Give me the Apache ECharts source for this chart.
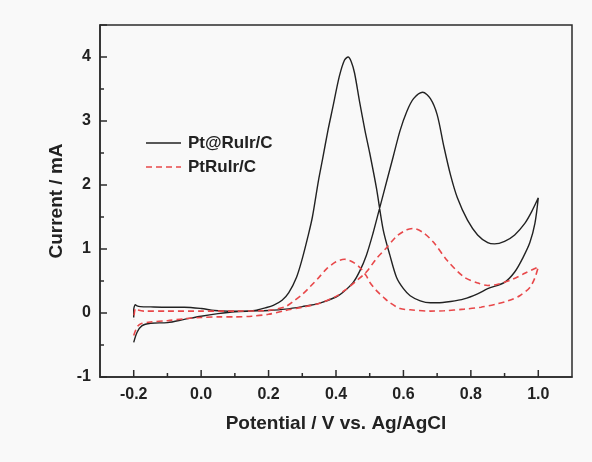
<!DOCTYPE html>
<html>
<head>
<meta charset="utf-8">
<script src="https://cdn.jsdelivr.net/npm/echarts@6/dist/echarts.min.js"></script>
<style>
html,body{margin:0;padding:0;background:#f9f9f9;}
#chart{width:592px;height:462px;}
</style>
</head>
<body>
<div id="chart"></div>
<script>
// Pt@RuIr/C cyclic voltammogram: forward scan then backward scan
const blackV = [-0.2,-0.19,-0.176,-0.15,-0.1,-0.05,0.0,0.05,0.1,0.15,0.2,0.25,0.3,0.35,0.4,0.42,0.45,0.47,0.49,0.51,0.53,0.55,0.57,0.59,0.61,0.63,0.657,0.68,0.7,0.72,0.74,0.76,0.79,0.82,0.85,0.87,0.9,0.93,0.96,0.98,1.0,
  0.99,0.975,0.955,0.93,0.9,0.85,0.82,0.78,0.74,0.7,0.68,0.65,0.62,0.6,0.58,0.56,0.54,0.52,0.5,0.486,0.47,0.455,0.445,0.436,0.425,0.41,0.39,0.376,0.36,0.348,0.33,0.317,0.3,0.283,0.26,0.24,0.214,0.19,0.16,0.12,0.08,0.04,0.0,-0.05,-0.1,-0.15,-0.18,-0.19,-0.195,-0.2,-0.2];
const blackI = [-0.46,-0.3,-0.2,-0.16,-0.15,-0.1,-0.05,-0.01,0.02,0.03,0.04,0.06,0.1,0.15,0.25,0.32,0.47,0.65,0.9,1.25,1.65,2.05,2.45,2.85,3.15,3.35,3.45,3.35,3.1,2.6,2.15,1.8,1.45,1.22,1.1,1.08,1.12,1.22,1.4,1.58,1.8,
  1.4,1.1,0.87,0.64,0.48,0.38,0.3,0.22,0.18,0.16,0.16,0.19,0.27,0.38,0.55,0.9,1.3,1.95,2.5,2.85,3.3,3.75,3.93,4.0,3.95,3.7,3.2,2.85,2.4,2.07,1.5,1.2,0.85,0.56,0.32,0.2,0.12,0.08,0.04,0.03,0.03,0.04,0.07,0.09,0.09,0.095,0.1,0.11,0.13,0.05,-0.07];

// PtRuIr/C cyclic voltammogram: forward scan then backward scan
const redV = [-0.2,-0.19,-0.18,-0.15,-0.1,-0.05,0.0,0.05,0.1,0.15,0.2,0.25,0.3,0.35,0.4,0.43,0.46,0.49,0.52,0.55,0.58,0.61,0.63,0.66,0.69,0.73,0.78,0.82,0.85,0.88,0.925,0.96,1.0,
  0.99,0.975,0.945,0.91,0.876,0.83,0.78,0.72,0.68,0.62,0.59,0.56,0.54,0.52,0.5,0.49,0.471,0.455,0.44,0.425,0.4,0.372,0.35,0.323,0.3,0.273,0.25,0.214,0.18,0.1,0.0,-0.1,-0.17,-0.19,-0.195,-0.2];
const redI = [-0.35,-0.22,-0.17,-0.14,-0.12,-0.09,-0.07,-0.06,-0.06,-0.05,-0.02,0.04,0.09,0.15,0.26,0.37,0.5,0.64,0.85,1.02,1.2,1.3,1.32,1.25,1.1,0.82,0.56,0.47,0.43,0.45,0.53,0.62,0.72,
  0.55,0.4,0.27,0.19,0.14,0.09,0.06,0.035,0.03,0.05,0.07,0.16,0.25,0.35,0.48,0.58,0.71,0.78,0.82,0.84,0.8,0.69,0.56,0.41,0.29,0.18,0.1,0.05,0.035,0.03,0.03,0.03,0.03,0.05,0.07,-0.1];

const seriesNames = ['Pt@RuIr/C', 'PtRuIr/C'];
const xMajorTicks = [-0.2, 0.0, 0.2, 0.4, 0.6, 0.8, 1.0];
const xMinorTicks = [-0.1, 0.1, 0.3, 0.5, 0.7, 0.9];
const xAxisTitle = 'Potential / V vs. Ag/AgCl';
const yAxisTitle = 'Current / mA';

const pair = (xs, ys) => xs.map((x, i) => [x, ys[i]]);
const FONT = '"Liberation Sans", Arial, sans-serif';
const AX = '#2b2b2b';
const BLACK = '#222';
const RED = '#e8484a';
const Y_MIN = -1;

const legendItem = (y, name, color, dash) => ([
  { type: 'line', shape: { x1: 146, y1: y, x2: 181, y2: y },
    style: { stroke: color, lineWidth: dash ? 1.6 : 1.4, lineDash: dash || null } },
  { type: 'text', x: 188, y: y, style: { text: name, fill: '#222', font: 'bold 17px ' + FONT, verticalAlign: 'middle', align: 'left' } }
]);
const legendGraphics = [].concat(legendItem(143, seriesNames[0], BLACK, null), legendItem(167, seriesNames[1], RED, [6, 4]));

const chart = echarts.init(document.getElementById('chart'));
chart.setOption({
  backgroundColor: '#f9f9f9',
  animation: false,
  grid: { left: 100, right: 20, top: 25, bottom: 85, show: true, borderColor: AX, borderWidth: 1.5, backgroundColor: 'transparent' },
  graphic: legendGraphics,
  xAxis: {
    type: 'value', min: -0.3, max: 1.1,
    axisLine: { onZero: false, lineStyle: { color: AX, width: 1.5 } },
    axisTick: { show: false },
    axisLabel: { customValues: xMajorTicks, margin: 10, fontFamily: FONT, fontSize: 16, fontWeight: 'bold', color: '#222',
      formatter: v => v.toFixed(1) },
    splitLine: { show: false },
    name: xAxisTitle, nameLocation: 'middle', nameGap: 37,
    nameTextStyle: { fontFamily: FONT, fontSize: 19, fontWeight: 'bold', color: '#222' }
  },
  yAxis: {
    type: 'value', min: Y_MIN, max: 4.5, interval: 1,
    axisLine: { onZero: false, lineStyle: { color: AX, width: 1.5 } },
    axisTick: { inside: true, length: 7, lineStyle: { color: AX, width: 1.5 } },
    minorTick: { show: true, splitNumber: 2, length: 4, lineStyle: { color: AX, width: 1.5 } },
    axisLabel: { margin: 9, fontFamily: FONT, fontSize: 16, fontWeight: 'bold', color: '#222',
      formatter: v => (Number.isInteger(v) ? String(v) : '') },
    splitLine: { show: false },
    name: yAxisTitle, nameLocation: 'middle', nameGap: 34,
    nameTextStyle: { fontFamily: FONT, fontSize: 19, fontWeight: 'bold', color: '#222' }
  },
  series: [{
    name: seriesNames[0], type: 'line', data: pair(blackV, blackI),
    showSymbol: false, symbol: 'none', smooth: 0.3,
    lineStyle: { color: BLACK, width: 1.4 }
  }, {
    name: seriesNames[1], type: 'line', data: pair(redV, redI),
    showSymbol: false, symbol: 'none', smooth: 0.3,
    lineStyle: { color: RED, width: 1.6, type: [6, 4] }
  }]
});

// x-axis ticks (major and minor), positioned through the chart's own scales
const tickGraphic = (v, len) => {
  const p = chart.convertToPixel({ gridIndex: 0 }, [v, Y_MIN]);
  return { type: 'line', z: 100, shape: { x1: p[0], y1: p[1], x2: p[0], y2: p[1] - len },
    style: { stroke: AX, lineWidth: 1.5 } };
};
const tickGraphics = xMajorTicks.map(v => tickGraphic(v, 7)).concat(xMinorTicks.map(v => tickGraphic(v, 4)));
chart.setOption({ graphic: legendGraphics.concat(tickGraphics) });
</script>
</body>
</html>
